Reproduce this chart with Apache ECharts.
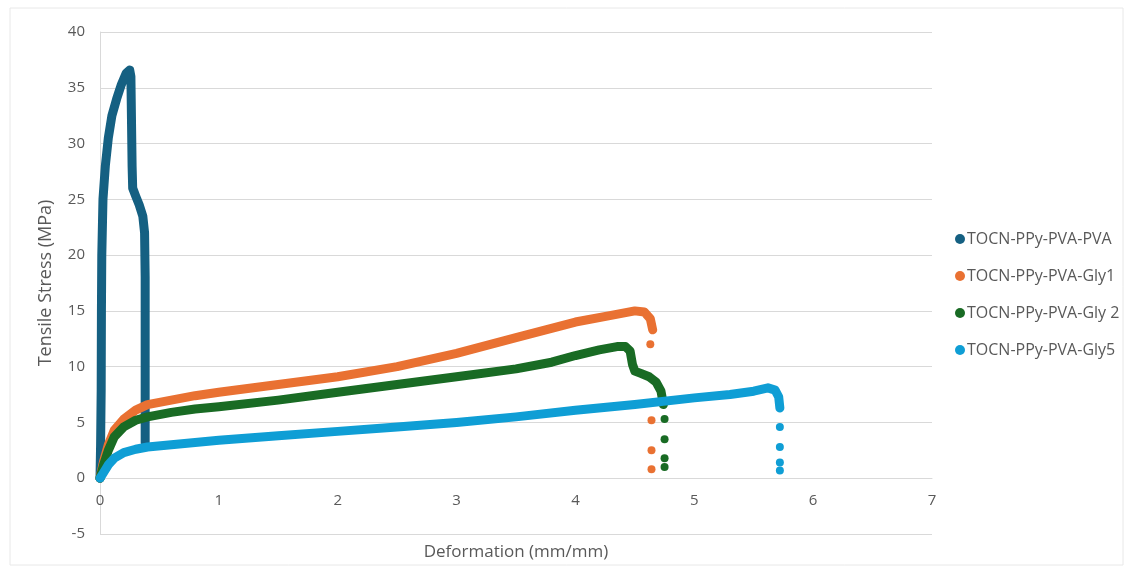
<!DOCTYPE html>
<html>
<head>
<meta charset="utf-8">
<title>Tensile Stress vs Deformation</title>
<script src="https://cdn.jsdelivr.net/npm/echarts@6/dist/echarts.min.js"></script>
<style>
  html, body { margin: 0; padding: 0; background: #ffffff; }
  #chart { width: 1133px; height: 573px; }
</style>
</head>
<body>
<div id="chart"></div>
<script>
// Series names, as shown in the legend
const seriesNames = ['TOCN-PPy-PVA-PVA', 'TOCN-PPy-PVA-Gly1', 'TOCN-PPy-PVA-Gly 2', 'TOCN-PPy-PVA-Gly5'];
const seriesColors = ['#156082', '#E97132', '#196B24', '#0F9ED5'];

// Stress-strain curves: [deformation (mm/mm), tensile stress (MPa)]
const pvaCurve = [
  [0, 0], [0.005, 3], [0.01, 8], [0.012, 15], [0.015, 20], [0.025, 25], [0.045, 28],
  [0.07, 30.5], [0.1, 32.5], [0.14, 34], [0.18, 35.3], [0.22, 36.3], [0.25, 36.6],
  [0.26, 36], [0.265, 32], [0.27, 28], [0.275, 26], [0.3, 25.3], [0.33, 24.5],
  [0.36, 23.5], [0.375, 22], [0.38, 18], [0.38, 12], [0.38, 6], [0.38, 3.2]
];
const pvaTail = [];

const gly1Curve = [
  [0, 0], [0.03, 1.5], [0.07, 3], [0.12, 4.3], [0.2, 5.3], [0.3, 6.1], [0.4, 6.6],
  [0.6, 7.0], [0.8, 7.4], [1.0, 7.7], [1.5, 8.4], [2.0, 9.1], [2.5, 10.0], [3.0, 11.2],
  [3.5, 12.6], [4.0, 14.0], [4.3, 14.6], [4.5, 15.0], [4.58, 14.9], [4.63, 14.3], [4.65, 13.3]
];
const gly1Tail = [[4.63, 12.0], [4.64, 5.2], [4.64, 2.5], [4.64, 0.8]];

const gly2Curve = [
  [0, 0], [0.03, 1.2], [0.07, 2.5], [0.12, 3.7], [0.2, 4.6], [0.3, 5.2], [0.4, 5.5],
  [0.6, 5.9], [0.8, 6.2], [1.0, 6.4], [1.5, 7.0], [2.0, 7.7], [2.5, 8.4], [3.0, 9.1],
  [3.5, 9.8], [3.8, 10.4], [4.0, 11.0], [4.2, 11.5], [4.35, 11.8], [4.42, 11.8],
  [4.46, 11.4], [4.48, 10.2], [4.5, 9.6], [4.55, 9.4], [4.62, 9.1], [4.68, 8.6],
  [4.72, 7.8], [4.74, 6.6]
];
const gly2Tail = [[4.75, 5.3], [4.75, 3.5], [4.75, 1.8], [4.75, 1.0]];

const gly5Curve = [
  [0, 0], [0.03, 0.5], [0.07, 1.2], [0.12, 1.8], [0.2, 2.3], [0.3, 2.6], [0.4, 2.8],
  [0.6, 3.0], [0.8, 3.2], [1.0, 3.4], [1.5, 3.8], [2.0, 4.2], [2.5, 4.6], [3.0, 5.0],
  [3.5, 5.5], [4.0, 6.1], [4.5, 6.6], [5.0, 7.2], [5.3, 7.5], [5.5, 7.8], [5.62, 8.1],
  [5.68, 7.9], [5.71, 7.3], [5.72, 6.3]
];
const gly5Tail = [[5.72, 4.6], [5.72, 2.8], [5.72, 1.4], [5.72, 0.7]];

// Axis ticks
const xTicks = { min: 0, max: 7, interval: 1 };
const yTicks = { min: -5, max: 40, interval: 5 };

const curves = [pvaCurve, gly1Curve, gly2Curve, gly5Curve];
const tails = [pvaTail, gly1Tail, gly2Tail, gly5Tail];

const font = 'Open Sans, Noto Sans, sans-serif';
const textColor = '#595959';
const gridColor = '#d9d9d9';

// Plot box and the pixel height of one stress unit, used to lift the
// deformation axis so it sits on the zero-stress line
const gridBox = { left: 100, right: 201, top: 32, bottom: 39 };
const chartHeight = 573;
const plotHeight = chartHeight - gridBox.top - gridBox.bottom;
const zeroLift = plotHeight * (0 - yTicks.min) / (yTicks.max - yTicks.min);

const series = [];
seriesNames.forEach(function (name, i) {
  series.push({
    name: name,
    type: 'line',
    data: curves[i],
    showSymbol: false,
    symbol: 'circle',
    smooth: false,
    color: seriesColors[i],
    lineStyle: { width: 9, cap: 'round', join: 'round', color: seriesColors[i] },
    z: 2 + i
  });
  series.push({
    name: name,
    type: 'scatter',
    data: tails[i],
    symbol: 'circle',
    symbolSize: 8,
    itemStyle: { color: seriesColors[i], opacity: 1 },
    z: 2 + i
  });
});

const chart = echarts.init(document.getElementById('chart'), null, { renderer: 'canvas' });
chart.setOption({
  animation: false,
  backgroundColor: '#ffffff',
  textStyle: { fontFamily: font },
  graphic: [{
    type: 'rect',
    shape: { x: 10, y: 8, width: 1113, height: 557 },
    style: { fill: 'none', stroke: '#e8e8e8', lineWidth: 1 },
    silent: true,
    z: -1
  }],
  grid: {
    left: gridBox.left, right: gridBox.right, top: gridBox.top, bottom: gridBox.bottom,
    containLabel: false, outerBoundsMode: 'none'
  },
  legend: {
    orient: 'vertical',
    left: 950,
    top: 226,
    icon: 'circle',
    itemWidth: 10,
    itemHeight: 10,
    itemGap: 21,
    data: seriesNames,
    textStyle: { color: textColor, fontSize: 16, fontFamily: font, padding: [0, 0, 0, -3] }
  },
  xAxis: {
    type: 'value',
    min: xTicks.min,
    max: xTicks.max,
    interval: xTicks.interval,
    offset: -zeroLift,
    name: 'Deformation (mm/mm)',
    nameLocation: 'middle',
    nameGap: 65,
    nameTextStyle: { color: textColor, fontSize: 17, fontFamily: font },
    axisLine: { show: true, onZero: false, lineStyle: { color: gridColor, width: 1 } },
    axisTick: { show: false },
    axisLabel: { color: textColor, fontSize: 15, margin: 15, fontFamily: font },
    splitLine: { show: false }
  },
  yAxis: {
    type: 'value',
    min: yTicks.min,
    max: yTicks.max,
    interval: yTicks.interval,
    name: 'Tensile Stress (MPa)',
    nameLocation: 'middle',
    nameGap: 45,
    nameRotate: 90,
    nameTextStyle: { color: textColor, fontSize: 18, fontFamily: font },
    axisLine: { show: true, onZero: false, lineStyle: { color: gridColor, width: 1 } },
    axisTick: { show: false },
    axisLabel: { color: textColor, fontSize: 15, margin: 15, fontFamily: font },
    splitLine: { show: true, lineStyle: { color: gridColor, width: 1 } }
  },
  series: series
});
</script>
</body>
</html>
